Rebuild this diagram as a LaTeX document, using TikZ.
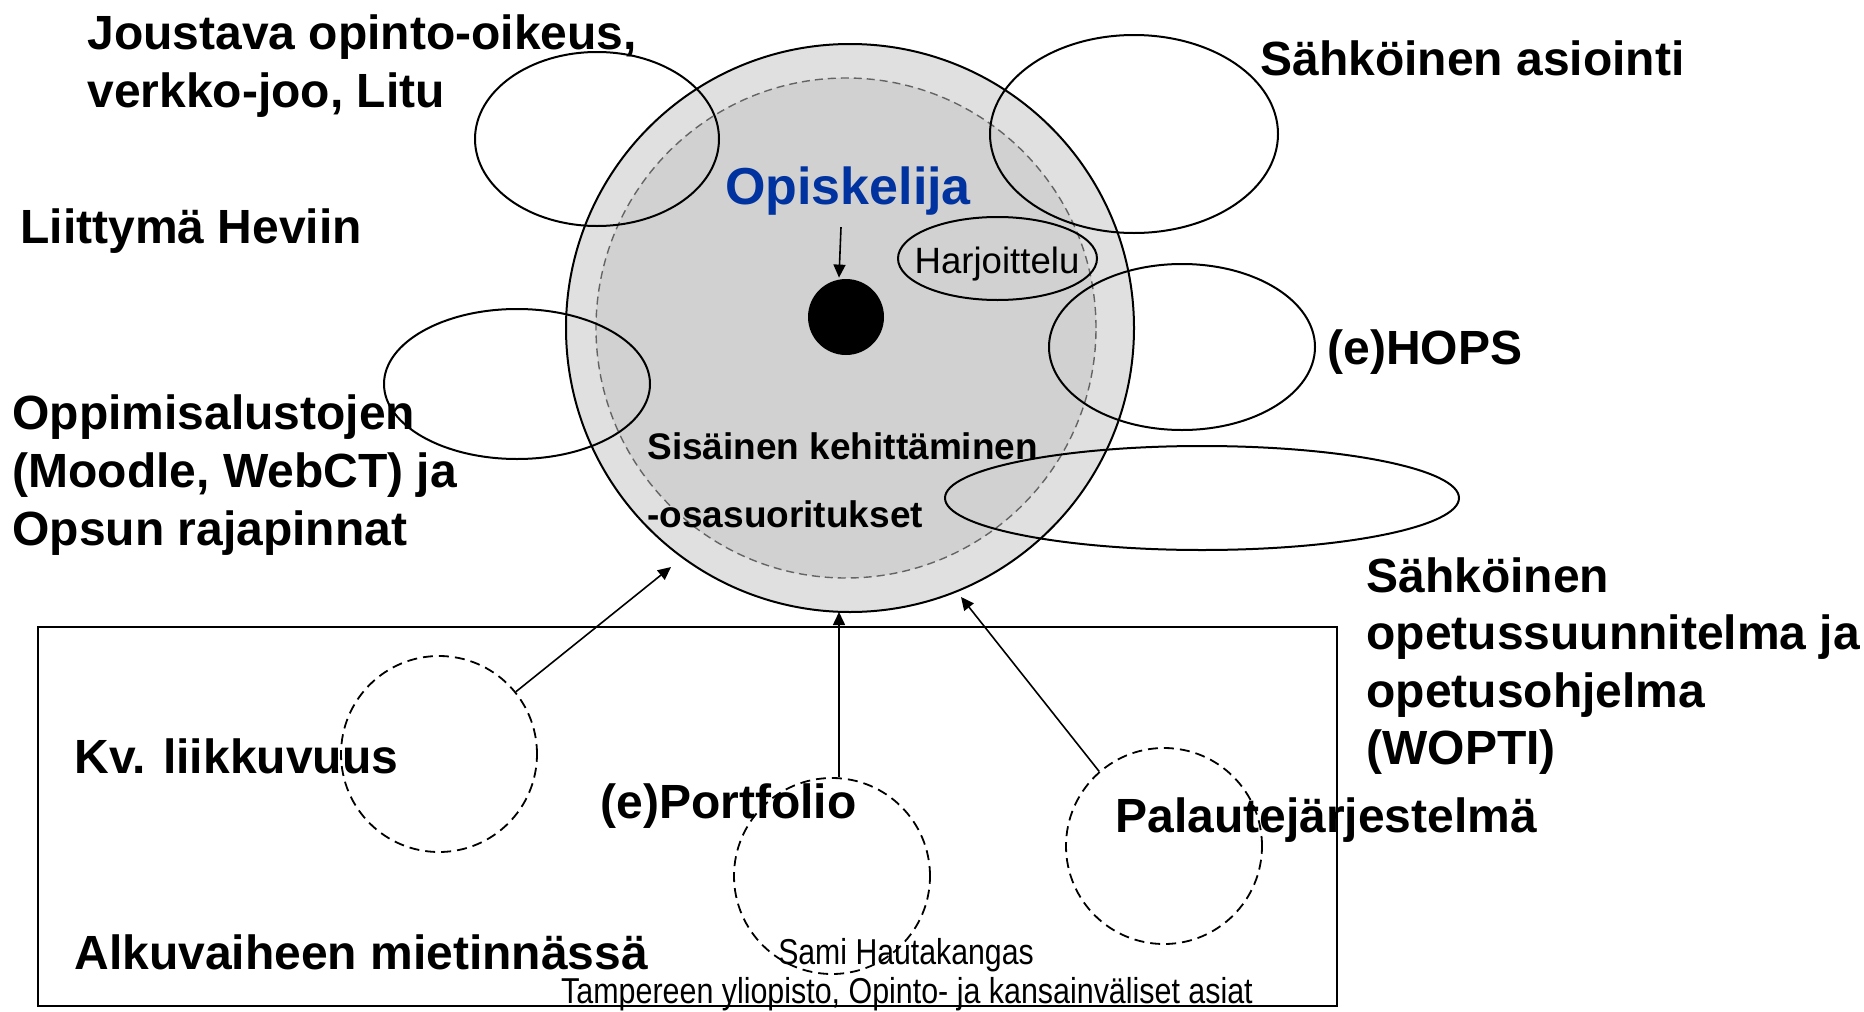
\documentclass[tikz,border=0pt]{standalone}
\usepackage{fontspec}
\setmainfont{Liberation Sans}
\usetikzlibrary{arrows.meta,shapes.geometric}
\definecolor{ringgray}{RGB}{224,224,224}
\definecolor{coregray}{RGB}{209,209,209}
\definecolor{studentblue}{RGB}{0,51,160}
\definecolor{corerim}{RGB}{100,100,100}
\begin{document}
\begin{tikzpicture}[x=0.5pt,y=-0.5pt,
  lbl/.style={anchor=base west, inner sep=0, font=\fontsize{24}{29}\selectfont\bfseries},
  inlbl/.style={anchor=base west, inner sep=0, font=\fontsize{18.5}{22}\selectfont\bfseries},
  oval/.style={ellipse, draw, line width=1pt, inner sep=0},
  dashcirc/.style={circle, draw, line width=0.9pt, dash pattern=on 5pt off 3pt, inner sep=0, minimum size=98pt},
  link/.style={line width=0.8pt, -{Triangle[length=6.5pt,width=6pt]}},
  foot/.style={anchor=base, inner sep=0, font=\fontsize{18}{21}\selectfont}
]
\useasboundingbox (0,0) rectangle (1864,1012);

% the student at the centre
\node (ring) [circle, draw, line width=1pt, fill=ringgray, minimum size=284pt, inner sep=0] at (850,328) {};
\node (core) [circle, draw=corerim, line width=0.7pt, dash pattern=on 4pt off 2.5pt, fill=coregray, minimum size=250pt, inner sep=0] at (846,328) {};
\node (dot) [circle, fill=black, minimum size=38pt, inner sep=0] at (846,317) {};
\node (student) [anchor=base, inner sep=0, text=studentblue, font=\fontsize{26}{30}\selectfont\bfseries] at (848,204) {Opiskelija};
\draw[link] ([xshift=-3.5pt,yshift=-6pt]student.south) -- ([xshift=-3.5pt,yshift=0.5pt]dot.north);

\node (harj) [oval, minimum width=99.5pt, minimum height=41.5pt] at (997.5,258.5) {};
\node (harjl) [anchor=base, inner sep=0, font=\fontsize{18.3}{22}\selectfont] at (997,273) {Harjoittelu};
\node (inA) [inlbl] at (647,459) {Sisäinen kehittäminen};
\node (inB) [inlbl] at (647,527) {-osasuoritukset};

% overlapping service ovals
\node (ovJ) [oval, minimum width=122pt, minimum height=87pt] at (597,139) {};
\node (ovS) [oval, minimum width=144pt, minimum height=99pt] at (1134,134) {};
\node (ovH) [oval, minimum width=133pt, minimum height=83pt] at (1182,347) {};
\node (ovO) [oval, minimum width=133pt, minimum height=75pt] at (517,384) {};
\node (ovW) [oval, minimum width=257pt, minimum height=52pt] at (1202,498) {};

% labels around the circle
\node (jouA) [lbl] at (87,49) {Joustava opinto-oikeus,};
\node (jouB) [lbl] at (87,107) {verkko-joo, Litu};
\node (hevi) [lbl] at (20,243) {Liittymä Heviin};
\node (oppA) [lbl] at (12,429) {Oppimisalustojen};
\node (oppB) [lbl] at (12,487) {(Moodle, WebCT) ja};
\node (oppC) [lbl] at (12,545) {Opsun rajapinnat};
\node (asio) [lbl] at (1260,75) {Sähköinen asiointi};
\node (hops) [lbl] at (1327,364) {(e)HOPS};
\node (wopA) [lbl] at (1366,592) {Sähköinen};
\node (wopB) [lbl] at (1366,649) {opetussuunnitelma ja};
\node (wopC) [lbl] at (1366,707) {opetusohjelma};
\node (wopD) [lbl] at (1366,764) {(WOPTI)};

% ideas still under consideration
\node (plan) [draw, line width=1pt, inner sep=0, minimum width=649.5pt, minimum height=189.5pt] at (687.5,816.5) {};
\node (kv) [dashcirc] at (439,754) {};
\node (port) [dashcirc] at (832,876) {};
\node (pal) [dashcirc] at (1164,846) {};
\node (kvl) [lbl] at (74,773) {Kv. liikkuvuus};
\node (portl) [lbl] at (600,818) {(e)Portfolio};
\node (pall) [lbl] at (1115,832) {Palautejärjestelmä};
\node (alku) [lbl] at (74,969) {Alkuvaiheen mietinnässä};

\coordinate (kvtip) at (671,567);
\coordinate (porttip) at (839,612);
\coordinate (paltip) at (961,597);
\draw[link] (kv.39) -- (kvtip);
\draw[link] (port.north -| porttip) -- (porttip);
\draw[link] (pal.131) -- (paltip);

% author line
\node (auth) [foot] at (906,964) {\scalebox{0.84}[1]{Sami Hautakangas}};
\node (org) [foot] at (907,1003) {\scalebox{0.845}[1]{Tampereen yliopisto, Opinto- ja kansainväliset asiat}};
\end{tikzpicture}
\end{document}
